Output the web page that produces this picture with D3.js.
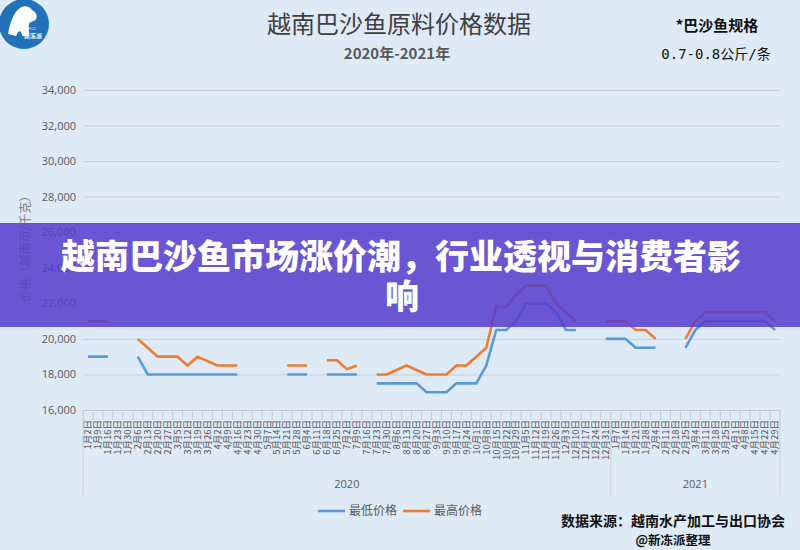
<!DOCTYPE html>
<html><head><meta charset="utf-8">
<script src="https://cdn.jsdelivr.net/npm/d3@7"></script>
<style>
html,body{margin:0;padding:0;background:#deeaf6;}
svg{display:block;}
</style></head><body>
<svg id="c" width="800" height="550"></svg>
<script>
const categories = [
"1月2日","1月9日","1月16日","1月23日","1月30日","2月6日","2月13日","2月20日","2月27日","3月5日",
"3月12日","3月19日","3月26日","4月2日","4月9日","4月16日","4月23日","4月30日","5月7日","5月14日",
"5月21日","5月28日","6月4日","6月11日","6月18日","6月25日","7月2日","7月9日","7月16日","7月23日",
"7月30日","8月6日","8月13日","8月20日","8月27日","9月3日","9月10日","9月17日","9月24日","10月1日",
"10月8日","10月15日","10月22日","10月29日","11月5日","11月12日","11月19日","11月26日","12月3日","12月10日",
"12月17日","12月24日","12月31日","1月7日","1月14日","1月21日","1月28日","2月4日","2月11日","2月18日",
"2月25日","3月4日","3月11日","3月18日","3月25日","4月1日","4月8日","4月15日","4月22日","4月29日"
];
const years = ["2020","2021"];
const yearCounts = [53,17];
const lowPrice = [
19000,19000,19000,null,null,19000,18000,18000,18000,18000,
18000,18000,18000,18000,18000,18000,null,null,null,null,
18000,18000,18000,null,18000,18000,18000,18000,null,17500,
17500,17500,17500,17500,17000,17000,17000,17500,17500,17500,
18500,20500,20500,21000,22000,22000,22000,21500,20500,20500,
null,null,20000,20000,20000,19500,19500,19500,null,null,
19500,20500,21000,21000,21000,21000,21000,21000,21000,20500
];
const highPrice = [
21000,21000,21000,null,null,20000,19500,19000,19000,19000,
18500,19000,18750,18500,18500,18500,null,null,null,null,
18500,18500,18500,null,18800,18800,18300,18500,null,18000,
18000,18250,18500,18250,18000,18000,18000,18500,18500,19000,
19500,21800,21800,22500,23000,23000,23000,22000,21500,21000,
null,null,21000,21000,21000,20500,20500,20000,null,null,
20000,21000,21500,21500,21500,21500,21500,21500,21500,21000
];
const yTicks = [16000,18000,20000,22000,24000,26000,28000,30000,32000,34000];
const seriesNames = ["最低价格","最高价格"];

const svg = d3.select("#c");
const W = 800, H = 550;
const pL = 83, pR = 780, pT = 90, pB = 410;
const CJK = "'Noto Sans CJK SC','Noto Sans',sans-serif";

svg.append("rect").attr("width",W).attr("height",H).attr("fill","#deeaf6");

const x = d3.scaleBand().domain(d3.range(categories.length)).range([pL,pR]).padding(0);
const y = d3.scaleLinear().domain([16000,34000]).range([pB,pT]);
const cx = i => x(i) + x.bandwidth()/2;

// grid
const yAxis = d3.axisLeft(y).tickValues(yTicks).tickSize(-(pR-pL)).tickPadding(7)
  .tickFormat(d3.format(","));
const gy = svg.append("g").attr("transform",`translate(${pL},0)`).call(yAxis);
gy.select(".domain").remove();
gy.selectAll(".tick line").attr("stroke","#c6d0db").attr("stroke-width",1);
gy.selectAll(".tick text").attr("fill","#595959").style("font-family","'Open Sans','Liberation Sans',sans-serif").style("font-size","11px");

// x axis categories
const xAxis = d3.axisBottom(x).tickFormat(i=>categories[i]).tickSize(0);
const gx = svg.append("g").attr("transform",`translate(0,${pB})`).call(xAxis);
gx.select(".domain").attr("stroke","#bfc9d4");
gx.selectAll(".tick text")
  .attr("transform","rotate(-90)")
  .attr("text-anchor","end")
  .attr("x",-10).attr("y",0).attr("dy","0.35em")
  .attr("fill","#595959")
  .style("font-family",CJK).style("font-size","9.5px");
// category separators
svg.append("g").selectAll("line").data(d3.range(categories.length+1)).join("line")
  .attr("x1",i=> i<categories.length ? x(i) : pR).attr("x2",i=> i<categories.length ? x(i) : pR)
  .attr("y1",pB).attr("y2",pB+10)
  .attr("stroke","#bfc9d4").attr("stroke-width",0.8);

// year level
let acc = 0;
const yearBounds = [];
years.forEach((yr,k)=>{ yearBounds.push({yr, s:acc, e:acc+yearCounts[k]}); acc+=yearCounts[k]; });
const bx = i => i<categories.length ? x(i) : pR;
const yb = svg.append("g");
const bnds = [0].concat(yearBounds.map(b=>b.e));
yb.selectAll("line").data(bnds).join("line")
  .attr("x1",d=>bx(d)).attr("x2",d=>bx(d)).attr("y1",pB).attr("y2",495)
  .attr("stroke","#c6d0db").attr("stroke-width",1);
yb.selectAll("text").data(yearBounds).join("text")
  .attr("x",b=>(bx(b.s)+bx(b.e))/2).attr("y",488)
  .attr("text-anchor","middle").attr("fill","#595959")
  .style("font-family","'Open Sans','Liberation Sans',sans-serif").style("font-size","11px")
  .text(b=>b.yr);

// lines
const line = d3.line().defined(d=>d.v!=null).x(d=>cx(d.i)).y(d=>y(d.v));
const colors = ["#5b9bd5","#ed7d31"];
[lowPrice,highPrice].forEach((arr,k)=>{
  svg.append("path").datum(arr.map((v,i)=>({i,v})))
    .attr("d",line).attr("fill","none").attr("stroke",colors[k])
    .attr("stroke-width",2.6).attr("stroke-linejoin","round");
});

// y title
svg.append("text").attr("transform","translate(30,246) rotate(-90)")
  .attr("text-anchor","middle").attr("fill","#7f7f7f")
  .style("font-family",CJK).style("font-size","12px").text("价格（越南币/千克）");

// legend
const lg = svg.append("g");
const lx = [318,403];
seriesNames.forEach((n,k)=>{
  lg.append("line").attr("x1",lx[k]).attr("x2",lx[k]+27).attr("y1",511).attr("y2",511)
    .attr("stroke",colors[k]).attr("stroke-width",2.6);
  lg.append("text").attr("x",lx[k]+31).attr("y",515).attr("fill","#595959")
    .style("font-family",CJK).style("font-size","12px").text(n);
});

// titles
svg.append("text").attr("x",399).attr("y",33).attr("text-anchor","middle").attr("fill","#404040")
  .style("font-family",CJK).style("font-size","24px").text("越南巴沙鱼原料价格数据");
svg.append("text").attr("x",397).attr("y",59).attr("text-anchor","middle").attr("fill","#595959")
  .style("font-family",CJK).style("font-size","15px").style("font-weight","bold").text("2020年-2021年");
svg.append("text").attr("x",717).attr("y",31).attr("text-anchor","middle").attr("fill","#111")
  .style("font-family",CJK).style("font-size","15px").style("font-weight","bold").text("*巴沙鱼规格");
svg.append("text").attr("x",716).attr("y",59).attr("text-anchor","middle").attr("fill","#111")
  .style("font-family","'DejaVu Sans Mono','Noto Sans CJK SC',monospace").style("font-size","14px").text("0.7-0.8公斤/条");

// source
svg.append("text").attr("x",673).attr("y",526).attr("text-anchor","middle").attr("fill","#111")
  .style("font-family",CJK).style("font-size","14px").style("font-weight","bold").text("数据来源：越南水产加工与出口协会");
svg.append("text").attr("x",673).attr("y",545).attr("text-anchor","middle").attr("fill","#111")
  .style("font-family",CJK).style("font-size","12.5px").style("font-weight","bold").text("@新冻派整理");

// logo
const logo = svg.append("g").attr("transform","translate(24,24)");
logo.append("circle").attr("r",25).attr("fill","#2371b8");
logo.append("path").attr("d","M-16,10 C-14,-2 -10,-12 -4,-16 C0,-19 6,-18 8,-14 C12,-12 14,-8 12,-5 C10,-2 6,-3 5,0 C4,5 6,9 4,12 L-2,12 C-2,8 -4,6 -6,8 L-8,12 Z")
  .attr("fill","#ffffff");
logo.append("text").attr("x",8).attr("y",6).attr("text-anchor","middle").attr("fill","#fff")
  .style("font-family","sans-serif").style("font-size","4px").text("FCC");
logo.append("text").attr("x",9).attr("y",14).attr("text-anchor","middle").attr("fill","#fff")
  .style("font-family",CJK).style("font-size","6px").style("font-weight","bold").text("新冻派");

// banner
svg.append("rect").attr("x",0).attr("y",223).attr("width",W).attr("height",104)
  .attr("fill","#563ecc").attr("opacity",0.86);
const bt = svg.append("g").style("font-family",CJK).style("font-weight","900")
  .style("font-size","34px").attr("fill","#ffffff");
bt.append("text").attr("x",401).attr("y",269).attr("text-anchor","middle")
  .text("越南巴沙鱼市场涨价潮，行业透视与消费者影");
bt.append("text").attr("x",402).attr("y",309).attr("text-anchor","middle").text("响");
</script>
</body></html>
